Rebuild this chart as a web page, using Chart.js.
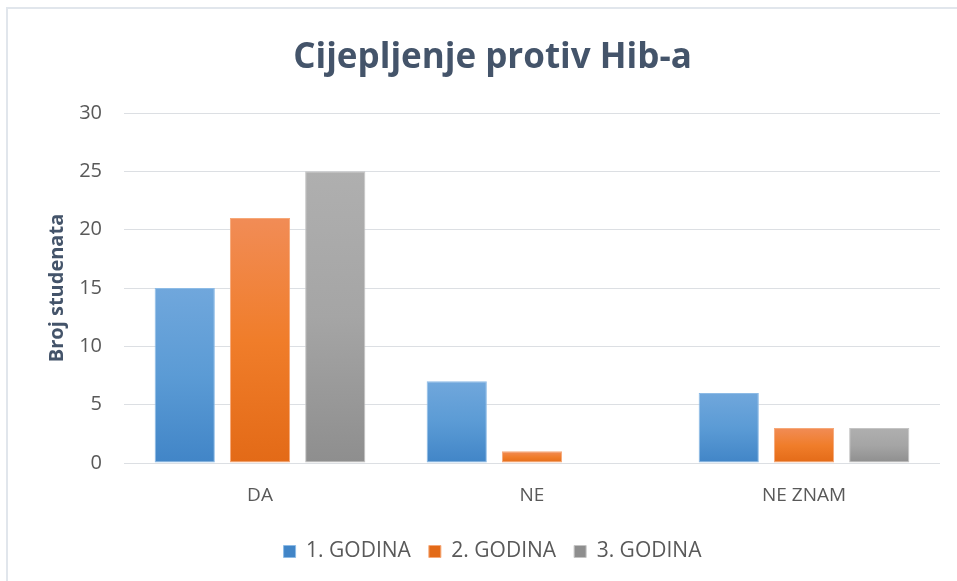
<!DOCTYPE html>
<html>
<head>
<meta charset="utf-8">
<script src="https://cdn.jsdelivr.net/npm/chart.js@4.4.1/dist/chart.umd.min.js"></script>
<style>
    html, body { margin: 0; padding: 0; background: #fff; }
    #wrap { position: relative; width: 957px; height: 581px; }
    #frame { position: absolute; left: 6px; top: 7px; right: 0; bottom: 0; border-top: 2px solid #e1e6ec; border-left: 2px solid #e1e6ec; pointer-events: none; }
</style>
</head>
<body>
<div id="wrap">
    <canvas id="hibChart" width="957" height="581"></canvas>
    <div id="frame"></div>
</div>
<script>
const categories = ['DA', 'NE', 'NE ZNAM'];
const seriesNames = ['1. GODINA', '2. GODINA', '3. GODINA'];
const year1 = [15, 7, 6];
const year2 = [21, 1, 3];
const year3 = [25, 0, 3];
const yTicks = [0, 5, 10, 15, 20, 25, 30];

// top / bottom colours of the office-style gradient, per series
const fills = [
    { top: '#70a7dc', mid: '#5b9bd5', bottom: '#4185c7', edge: '#8dbbe6' },
    { top: '#f18c56', mid: '#f07d2a', bottom: '#e36a17', edge: '#f6a878' },
    { top: '#afafaf', mid: '#a5a5a5', bottom: '#8e8e8e', edge: '#c4c4c4' }
];

const barFill = f => ctx => {
    if (ctx.type !== 'data') return f.mid;
    const chart = ctx.chart;
    if (!chart.chartArea) return f.mid;
    const ys = chart.scales.y;
    const yTop = ys.getPixelForValue(ctx.raw);
    const yBase = ys.getPixelForValue(0);
    if (yBase - yTop < 1) return f.bottom;
    const g = chart.ctx.createLinearGradient(0, yTop, 0, yBase);
    g.addColorStop(0, f.top);
    g.addColorStop(0.5, f.mid);
    g.addColorStop(1, f.bottom);
    return g;
};

const font = '"Open Sans", Lato, sans-serif';
const tickColor = '#595959';
const titleColor = '#44546a';

new Chart(document.getElementById('hibChart'), {
    type: 'bar',
    data: {
        labels: categories,
        datasets: [year1, year2, year3].map((values, i) => ({
            label: seriesNames[i],
            data: values,
            backgroundColor: barFill(fills[i]),
            borderColor: fills[i].edge,
            borderWidth: 1,
            borderSkipped: false,
            categoryPercentage: 0.83,
            barPercentage: 0.8
        }))
    },
    options: {
        responsive: false,
        animation: false,
        layout: { padding: { left: 45, right: 17, top: 0, bottom: 9 } },
        plugins: {
            title: {
                display: true,
                text: 'Cijepljenje protiv Hib-a',
                color: titleColor,
                font: { family: font, size: 35, weight: 'bold' },
                padding: { top: 37, bottom: 34 }
            },
            legend: {
                position: 'bottom',
                labels: {
                    color: tickColor,
                    font: { family: font, size: 21 },
                    boxWidth: 12,
                    boxHeight: 12,
                    padding: 18
                }
            },
            tooltip: { enabled: false }
        },
        scales: {
            x: {
                grid: { display: false },
                border: { display: false },
                ticks: { color: tickColor, font: { family: font, size: 19 }, padding: 13 },
                afterFit: s => { s.height = 60; }
            },
            y: {
                min: 0,
                max: 30,
                afterBuildTicks: s => { s.ticks = yTicks.map(v => ({ value: v })); },
                grid: { color: '#dcdfe3', drawTicks: false },
                border: { display: false },
                ticks: { color: tickColor, font: { family: font, size: 20 }, padding: 22 },
                title: {
                    display: true,
                    text: 'Broj studenata',
                    color: titleColor,
                    font: { family: font, size: 20, weight: 'bold' },
                    padding: 0
                },
                afterFit: s => { s.width = 79; }
            }
        }
    }
});
</script>
</body>
</html>
